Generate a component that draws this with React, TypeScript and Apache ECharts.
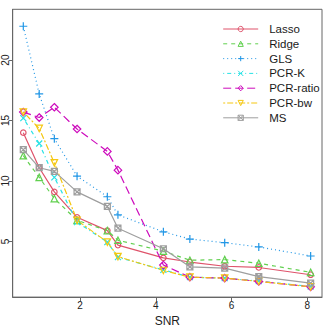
import React, { useEffect, useRef } from "react";
import * as echarts from "echarts";

const snr = [0.5, 0.92, 1.32, 1.92, 2.72, 3.0, 4.2, 4.9, 5.82, 6.72, 8.09];
const lasso = [14.0, 11.1, 9.1, 7.0, 5.9, 4.7, 3.65, 3.3, 2.95, 2.85, 2.25];
const ridge = [12.1, 10.3, 8.55, 6.75, 5.9, 5.1, 4.2, 3.45, 3.5, 3.2, 2.45];
const gls = [22.8, 17.2, 13.5, 10.4, 8.7, 7.2, 5.8, 5.2, 4.9, 4.55, 3.8];
const pcrK = [15.2, 13.1, 10.3, 6.6, 4.95, 3.7, 2.65, 2.05, 1.97, 1.72, 1.28];
const pcrRatio = [15.7, 15.25, 16.1, 14.3, 12.45, 10.9, 3.05, 2.05, 1.97, 1.7, 1.25];
const pcrBw = [15.7, 14.35, 11.5, 6.75, 4.95, 3.75, 2.6, 2.05, 1.97, 1.7, 1.25];
const ms = [12.6, 11.1, 10.8, 9.1, 7.9, 6.1, 4.4, 2.9, 2.8, 2.1, 1.55];

const xTicks = [2, 4, 6, 8];
const yTicks = [5, 10, 15, 20];

const FONT = "Liberation Sans, Arial, Helvetica, sans-serif";

type Def = {
  name: string;
  values: number[];
  color: string;
  dash: number[] | "solid";
  symbol: string;
  size: number;
};

const defs: Def[] = [
  { name: "Lasso", values: lasso, color: "#DF536B", dash: "solid", symbol: "circle", size: 5.5 },
  { name: "Ridge", values: ridge, color: "#61D04F", dash: [4, 4], symbol: "triangle", size: 6.5 },
  { name: "GLS", values: gls, color: "#2297E6", dash: [1, 3], symbol: "path://M5,0L5,10M0,5L10,5", size: 8 },
  { name: "PCR-K", values: pcrK, color: "#28E2E5", dash: [1, 3, 4, 3], symbol: "path://M0,0L10,10M10,0L0,10", size: 6 },
  { name: "PCR-ratio", values: pcrRatio, color: "#CD0BBC", dash: [8, 4], symbol: "diamond", size: 7.5 },
  { name: "PCR-bw", values: pcrBw, color: "#F5C710", dash: [2, 2, 6, 2], symbol: "path://M0,0L10,0L5,8.66Z", size: 6.5 },
  { name: "MS", values: ms, color: "#9E9E9E", dash: "solid", symbol: "path://M0,0L10,0L10,10L0,10ZM0,0L10,10M10,0L0,10", size: 6 },
];

export default function App() {
  const ref = useRef<HTMLDivElement>(null);
  useEffect(() => {
    document.body.style.margin = "0";
    const chart = echarts.init(ref.current!, null, { renderer: "svg" });
    const series = defs.map((d) => ({
      name: d.name,
      type: "line",
      data: snr.map((x, i) => [x, d.values[i]]),
      color: d.color,
      symbol: d.symbol,
      symbolSize: d.size,
      showSymbol: true,
      lineStyle: { color: d.color, width: 1.2, type: d.dash },
      itemStyle: { color: "rgba(0,0,0,0)", borderColor: d.color, borderWidth: 1.2 },
      emphasis: { disabled: true },
    }));
    chart.setOption({
      animation: false,
      grid: {
        left: 12.7,
        top: 9.3,
        right: 10,
        bottom: 27.3,
        show: true,
        borderColor: "#666",
        borderWidth: 1,
        backgroundColor: "transparent",
      },
      legend: {
        orient: "vertical",
        left: 217.7,
        top: 18,
        itemWidth: 35,
        itemHeight: 6.5,
        itemGap: 2.8,
        lineStyle: { width: 1 },
        itemStyle: { borderWidth: 1 },
        textStyle: {
          fontFamily: FONT,
          fontSize: 11.5,
          fontWeight: "normal",
          color: "#1a1a1a",
          padding: [0, 0, 0, 6],
          lineHeight: 12,
          height: 12,
        },
        data: defs.map((d) => d.name),
      },
      xAxis: {
        type: "value",
        min: 0.22,
        max: 8.39,
        splitLine: { show: false },
        axisLine: { show: true, lineStyle: { color: "#666" } },
        axisTick: { show: true, customValues: xTicks, length: 4, lineStyle: { color: "#666" } },
        axisLabel: { customValues: xTicks, fontFamily: FONT, fontSize: 10, color: "#222", margin: 3 },
        name: "SNR",
        nameLocation: "middle",
        nameGap: 15,
        nameTextStyle: { fontFamily: FONT, fontSize: 12, color: "#222" },
      },
      yAxis: {
        type: "value",
        min: 0.4,
        max: 24.2,
        splitLine: { show: false },
        axisLine: { show: true, lineStyle: { color: "#666" } },
        axisTick: { show: true, customValues: yTicks, length: 4, lineStyle: { color: "#666" } },
        axisLabel: { customValues: yTicks, rotate: 90, fontFamily: FONT, fontSize: 10, color: "#222", margin: 2 },
      },
      series,
    });
    return () => chart.dispose();
  }, []);
  return <div ref={ref} style={{ width: 332, height: 332 }} />;
}
